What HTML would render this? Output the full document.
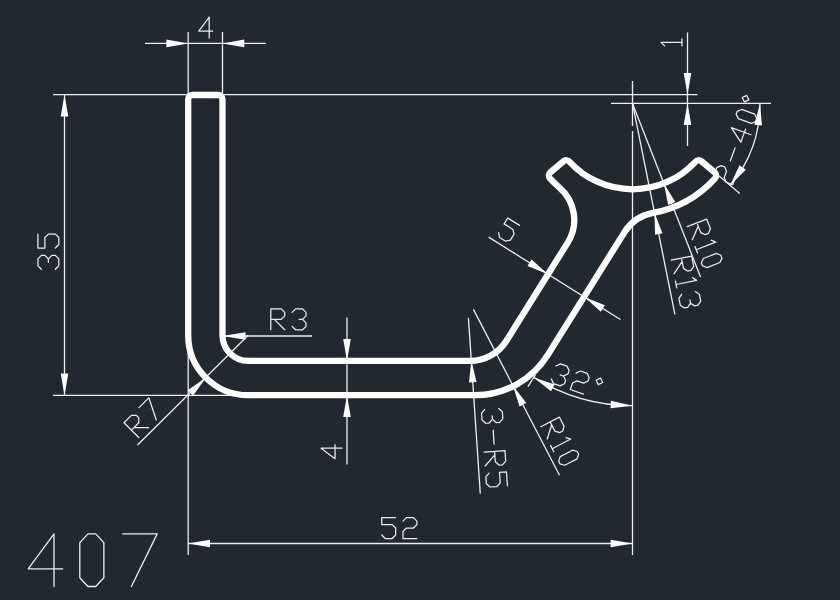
<!DOCTYPE html>
<html><head><meta charset="utf-8"><title>407</title>
<style>
html,body{margin:0;padding:0;background:#212830;}
body{width:840px;height:600px;overflow:hidden;font-family:"Liberation Sans",sans-serif;}
svg{display:block}
</style></head><body>
<svg width="840" height="600" viewBox="0 0 840 600">
<rect width="840" height="600" fill="#212830"/>
<g fill="none" stroke="#eceef0" stroke-width="1.3" stroke-linecap="butt">
<path d="M53.00,94.70 L697.50,94.70"/>
<path d="M53.00,395.40 L250.00,395.40"/>
<path d="M64.50,95.00 L64.50,395.00"/>
<path d="M145.00,43.40 L265.80,43.40"/>
<path d="M188.20,32.00 L188.20,95.00"/>
<path d="M222.50,32.00 L222.50,95.00"/>
<path d="M188.20,340.00 L188.20,555.00"/>
<path d="M188.20,543.50 L632.50,543.50"/>
<path d="M632.50,131.00 L632.50,555.00"/>
<path d="M632.50,81.00 L632.50,126.00"/>
<path d="M611.00,103.30 L771.00,103.30"/>
<path d="M687.50,32.50 L687.50,146.00"/>
<path d="M347.00,317.50 L347.00,464.50"/>
<path d="M312.00,336.00 L222.50,336.00"/>
<path d="M137.50,445.00 L248.20,335.20"/>
<path d="M468.40,317.80 L480.30,493.60"/>
<path d="M473.40,309.40 L559.50,475.30"/>
<path d="M488.64,237.16 L620.39,319.49"/>
<path d="M632.50,405.70 A186.36 186.36 0 0 1 533.75,377.38"/>
<path d="M535.34,374.84 L527.92,386.71"/>
<path d="M632.50,103.40 L700.50,276.90"/>
<path d="M632.50,103.40 L674.90,314.30"/>
<path d="M760.00,103.40 A127.50 127.50 0 0 1 730.17,185.36"/>
<path d="M719.06,176.03 L739.75,193.39"/>
</g>
<g fill="none" stroke="#eceef0" stroke-linecap="round" stroke-linejoin="round">
<path d="M209.19,38.00 L209.19,17.12 L198.75,31.04 L212.67,31.04" stroke-width="1.25"/>
<path d="M41.40,269.30 L37.92,265.82 L37.92,258.86 L41.40,255.38 L44.88,255.38 L48.36,258.86 L51.84,255.38 L55.32,255.38 L58.80,258.86 L58.80,265.82 L55.32,269.30 M48.36,262.34 L48.36,258.86 M55.32,248.00 L58.80,244.52 L58.80,237.56 L55.32,234.08 L48.36,234.08 L44.88,237.56 L44.88,248.00 L37.92,248.00 L37.92,234.08" stroke-width="1.25"/>
<path d="M270.80,329.80 L270.80,308.92 L281.24,308.92 L284.72,312.40 L284.72,315.88 L281.24,319.36 L270.80,319.36 M274.28,319.36 L284.72,329.80 M292.10,312.40 L295.58,308.92 L302.54,308.92 L306.02,312.40 L306.02,315.88 L302.54,319.36 L306.02,322.84 L306.02,326.32 L302.54,329.80 L295.58,329.80 L292.10,326.32 M299.06,319.36 L302.54,319.36" stroke-width="1.25"/>
<path d="M138.75,437.50 L123.99,422.74 L131.37,415.35 L136.29,415.35 L138.75,417.81 L138.75,422.74 L131.37,430.12 M133.83,427.66 L148.59,427.66 M139.05,407.68 L148.89,397.83 L156.27,419.98" stroke-width="1.25"/>
<path d="M342.00,448.21 L321.12,448.21 L335.04,458.65 L335.04,444.73" stroke-width="1.25"/>
<path d="M381.70,535.02 L385.18,538.50 L392.14,538.50 L395.62,535.02 L395.62,528.06 L392.14,524.58 L381.70,524.58 L381.70,517.62 L395.62,517.62 M403.00,521.10 L406.48,517.62 L413.44,517.62 L416.92,521.10 L416.92,524.58 L413.44,528.06 L406.48,528.06 L403.00,531.54 L403.00,538.50 L416.92,538.50" stroke-width="1.25"/>
<path d="M498.54,232.75 L499.65,237.54 L505.55,241.23 L510.35,240.13 L514.04,234.22 L512.93,229.43 L504.08,223.90 L507.76,217.99 L519.57,225.37" stroke-width="1.25"/>
<path d="M498.66,408.42 L502.37,411.66 L502.84,418.61 L499.60,422.31 L496.13,422.55 L492.42,419.31 L489.18,423.02 L485.71,423.25 L482.01,420.02 L481.54,413.07 L484.77,409.36 M492.19,415.84 L492.42,419.31 M493.15,430.14 L494.09,444.03 M484.18,452.10 L505.01,450.69 L505.71,461.10 L502.48,464.81 L499.01,465.05 L495.30,461.81 L494.59,451.39 M494.83,454.86 L485.12,465.99 M489.09,473.11 L485.85,476.82 L486.32,483.76 L490.03,487.00 L496.97,486.53 L500.21,482.82 L499.50,472.41 L506.45,471.94 L507.39,485.82" stroke-width="1.25"/>
<path d="M540.80,426.70 L559.33,417.08 L564.14,426.35 L562.66,431.04 L559.57,432.64 L554.88,431.16 L550.07,421.89 M551.67,424.98 L547.21,439.06 M566.05,437.59 L570.75,439.07 L552.21,448.69 M550.61,445.60 L553.82,451.78 M560.24,456.60 L572.60,450.19 L577.21,451.52 L578.65,454.30 L577.08,458.84 L564.73,465.25 L560.12,463.92 L558.67,461.14 L560.24,456.60" stroke-width="1.25"/>
<path d="M556.01,366.00 L560.45,363.88 L567.01,366.20 L569.13,370.64 L567.97,373.93 L563.53,376.04 L565.64,380.49 L564.48,383.77 L560.04,385.88 L553.48,383.56 L551.36,379.12 M560.25,374.88 L563.53,376.04 M576.08,373.11 L580.53,370.99 L587.09,373.31 L589.21,377.75 L588.04,381.03 L583.60,383.15 L577.04,380.83 L572.60,382.95 L570.28,389.51 L583.40,394.16 M600.60,378.10 L596.16,380.22 L598.28,384.66 L602.72,382.54 L600.60,378.10" stroke-width="1.25"/>
<path d="M687.20,226.70 L706.64,219.08 L710.45,228.80 L708.48,233.31 L705.24,234.58 L700.73,232.61 L696.92,222.89 M698.19,226.13 L692.28,239.66 M711.17,240.18 L715.68,242.15 L696.24,249.77 M694.97,246.53 L697.51,253.01 M703.39,258.48 L716.35,253.40 L720.80,255.21 L721.94,258.12 L719.91,262.47 L706.95,267.55 L702.50,265.74 L701.36,262.83 L703.39,258.48" stroke-width="1.25"/>
<path d="M671.20,260.20 L691.67,256.07 L693.73,266.31 L691.01,270.41 L687.60,271.09 L683.50,268.37 L681.43,258.14 M682.12,261.55 L673.95,273.85 M692.47,277.64 L696.57,280.36 L676.10,284.49 M675.41,281.08 L676.79,287.90 M695.27,291.56 L699.37,294.28 L700.75,301.10 L698.02,305.20 L694.61,305.89 L690.51,303.17 L687.79,307.27 L684.38,307.95 L680.28,305.23 L678.90,298.41 L681.63,294.31 M689.83,299.75 L690.51,303.17" stroke-width="1.25"/>
<path d="M664.60,45.85 L661.12,42.37 L682.00,42.37 M682.00,45.85 L682.00,38.89" stroke-width="1.25"/>
<path d="M716.45,178.65 L714.37,174.19 L716.75,167.65 L721.21,165.57 L724.48,166.76 L726.56,171.22 L724.18,177.76 L726.26,182.22 L732.80,184.60 L737.56,171.52 M730.27,161.02 L735.03,147.94 M750.94,134.76 L731.32,127.62 L740.83,142.19 L745.59,129.11 M751.38,123.37 L738.30,118.61 L736.16,114.31 L737.23,111.37 L741.63,109.45 L754.72,114.21 L756.85,118.51 L755.78,121.45 L751.38,123.37 M742.29,97.47 L744.37,101.93 L748.83,99.85 L746.75,95.39 L742.29,97.47" stroke-width="1.25"/>
<path d="M54.00,586.50 L54.00,533.88 L28.20,568.96 L62.60,568.96 M79.80,577.73 L79.80,542.65 L87.97,533.88 L95.71,533.88 L103.88,542.65 L103.88,577.73 L95.71,586.50 L87.97,586.50 L79.80,577.73 M122.80,533.88 L157.20,533.88 L131.40,586.50" stroke-width="1.30"/>
</g>
<path d="M 205.35,95.00 L 192.50,95.00 A 4.30 4.30 0 0 0 188.20,99.30 L 188.20,335.20 A 60.00 60.00 0 0 0 248.20,395.20 L 475.10,395.20 A 85.71 85.71 0 0 0 547.79,354.91 L 624.36,232.38 A 42.86 42.86 0 0 1 652.87,212.95 A 111.43 111.43 0 0 0 715.10,178.32 A 4.30 4.30 0 0 0 714.57,172.26 L 701.45,161.26 A 4.30 4.30 0 0 0 695.40,161.79 A 85.71 85.71 0 0 1 569.60,161.79 A 4.30 4.30 0 0 0 563.55,161.26 L 550.43,172.26 A 4.30 4.30 0 0 0 549.90,178.32 A 111.43 111.43 0 0 0 559.49,187.57 A 42.86 42.86 0 0 1 567.75,242.66 L 506.44,340.77 A 42.86 42.86 0 0 1 470.10,360.91 L 248.21,360.91 A 25.71 25.71 0 0 1 222.50,335.20 L 222.50,99.30 A 4.30 4.30 0 0 0 218.20,95.00 Z" fill="none" stroke="#ffffff" stroke-width="6.3" stroke-linejoin="round"/>
<g fill="#ffffff" stroke="none">
<path d="M64.50,94.70 L60.70,116.50 L68.30,116.50 Z"/>
<path d="M64.50,395.40 L68.30,373.60 L60.70,373.60 Z"/>
<path d="M188.20,43.40 L166.40,39.60 L166.40,47.20 Z"/>
<path d="M222.50,43.40 L244.30,47.20 L244.30,39.60 Z"/>
<path d="M188.20,543.50 L210.00,547.30 L210.00,539.70 Z"/>
<path d="M632.50,543.50 L610.70,539.70 L610.70,547.30 Z"/>
<path d="M687.50,94.70 L691.30,72.90 L683.70,72.90 Z"/>
<path d="M687.50,103.30 L683.70,125.10 L691.30,125.10 Z"/>
<path d="M347.00,360.91 L350.80,339.11 L343.20,339.11 Z"/>
<path d="M347.00,395.20 L343.20,417.00 L350.80,417.00 Z"/>
<path d="M222.50,336.00 L245.50,339.80 L245.50,332.20 Z"/>
<path d="M205.77,377.63 L187.67,390.35 L193.05,395.73 Z"/>
<path d="M471.29,360.56 L468.98,382.57 L476.56,382.05 Z"/>
<path d="M512.88,385.48 L519.55,406.58 L526.30,403.08 Z"/>
<path d="M548.01,274.25 L531.53,259.48 L527.51,265.92 Z"/>
<path d="M584.35,296.97 L600.83,311.74 L604.85,305.29 Z"/>
<path d="M632.50,405.70 L610.97,400.63 L610.53,408.22 Z"/>
<path d="M533.75,377.38 L551.04,391.16 L554.69,384.49 Z"/>
<path d="M663.78,183.20 L668.19,204.89 L675.27,202.11 Z"/>
<path d="M654.46,212.64 L655.03,234.76 L662.48,233.27 Z"/>
<path d="M760.00,103.40 L754.35,124.77 L761.93,125.42 Z"/>
<path d="M730.17,185.36 L745.80,169.73 L739.58,165.36 Z"/>
</g>
</svg>
</body></html>
